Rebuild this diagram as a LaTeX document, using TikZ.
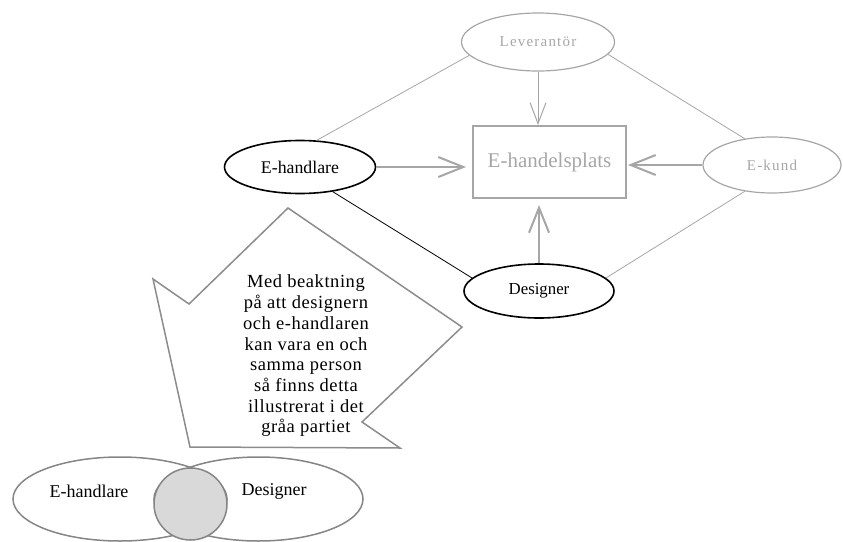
\documentclass[tikz,border=0pt]{standalone}
\usepackage{fontspec}
\setmainfont{Liberation Serif}
\usetikzlibrary{shapes.geometric,arrows.meta}
\definecolor{linegray}{HTML}{A6A6A6}
\definecolor{shapegray}{HTML}{8C8C8C}
\definecolor{vennline}{HTML}{858585}
\definecolor{lensfill}{HTML}{D9D9D9}
\tikzset{
  role/.style={ellipse, draw=black, line width=1.6pt, inner sep=0pt, text=black},
  grayrole/.style={ellipse, draw=linegray, line width=1.2pt, inner sep=0pt, text=linegray},
  market/.style={rectangle, draw=linegray, line width=2pt, inner sep=0pt, text=linegray,
    minimum width=153pt, minimum height=72pt, font=\fontsize{21}{24}\selectfont},
  thinlink/.style={draw=linegray, line width=0.8pt},
  blacklink/.style={draw=black, line width=0.8pt},
  flow/.style={draw=linegray, line width=2pt, -{Straight Barb[length=25pt, width=20pt, line width=2pt]}},
  thinflow/.style={draw=linegray, line width=1pt, -{Straight Barb[length=21pt, width=16pt, line width=1pt]}},
  vennset/.style={ellipse, draw=vennline, line width=1.5pt, inner sep=0pt},
  venntext/.style={inner sep=0pt, font=\fontsize{18}{21}\selectfont},
}
\begin{document}
\begin{tikzpicture}[x=1pt, y=-1pt]
  \useasboundingbox (0,0) rectangle (843,541);

  % actors around the marketplace
  \node[grayrole, minimum width=153pt, minimum height=58pt,
        font=\fontsize{15}{18}\selectfont\addfontfeature{LetterSpace=8}] (lev) at (538,42)
        {\raisebox{-5pt}{Leverantör}};
  \node[market] (plats) at (549.5,162) {\raisebox{-7pt}{E-handelsplats}};
  \node[grayrole, minimum width=138pt, minimum height=56pt,
        font=\fontsize{15}{18}\selectfont\addfontfeature{LetterSpace=8}] (kund) at (772,165)
        {\raisebox{-8pt}{E-kund}};
  \node[role, minimum width=151pt, minimum height=53pt,
        font=\fontsize{17.8}{20}\selectfont] (handl) at (300,167)
        {\raisebox{-6pt}{E-handlare}};
  \node[role, minimum width=150pt, minimum height=54pt,
        font=\fontsize{16.8}{19}\selectfont] (design) at (539,291)
        {\raisebox{-8pt}{Designer}};

  % relations between the actors
  \draw[thinlink] (lev.191) -- (handl.58);
  \draw[thinlink] (lev.350) -- (kund.136);
  \draw[thinlink] (kund.224) -- (design.11);
  \draw[blacklink] (handl.323) -- (design.169);

  % flows into the marketplace
  \draw[thinflow] (lev.south) -- (lev.south |- plats.north);
  \draw[flow, shorten >=6pt] (handl.east) -- (handl.east -| plats.west);
  \draw[flow, shorten >=1pt] (kund.west) -- (kund.west -| plats.east);
  \draw[flow, shorten >=6pt] (design.north) -- (design.north |- plats.south);

  % callout with the explanation
  \draw[draw=shapegray, line width=1.5pt, line join=miter]
    (288,208) -- (462,327) -- (362,422) -- (400,448) -- (190,447)
    -- (153,279) -- (189,304) -- cycle;
  \node[align=center, inner sep=0pt,
        font=\fontsize{18.5}{20.7}\selectfont\addfontfeature{LetterSpace=3}] (note) at (306,356)
    {Med beaktning\\på att designern\\och e-handlaren\\kan vara en och\\samma person\\så finns detta\\illustrerat i det\\gråa partiet};

  % overlap of the two roles
  \node[vennset, minimum width=214pt, minimum height=84pt] (vleft) at (120,499) {};
  \node[vennset, minimum width=209pt, minimum height=84pt] (vright) at (258.5,499) {};
  \node[ellipse, draw=vennline, fill=lensfill, line width=1.5pt, inner sep=0pt,
        minimum width=73pt, minimum height=72pt] (lens) at (190.5,504) {};
  \node[venntext] (vltext) at (89,491) {E-handlare};
  \node[venntext] (vrtext) at (274,491) {Designer};
\end{tikzpicture}
\end{document}
